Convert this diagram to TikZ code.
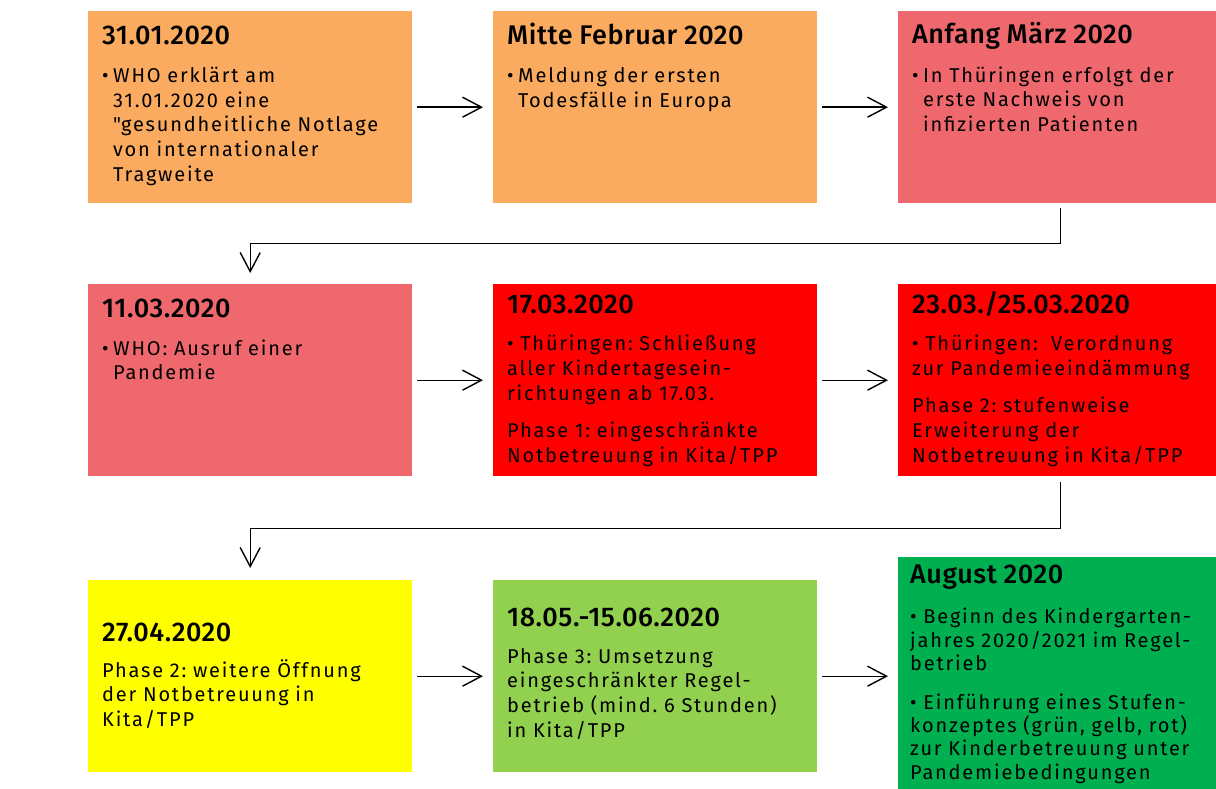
\documentclass[tikz,border=0pt]{standalone}
\usepackage{fontspec}
\setmainfont{Fira Sans}[LetterSpace=9]
\newfontfamily\datefamily{Fira Sans Medium}[LetterSpace=2]
\usepackage{tikz}
\usetikzlibrary{arrows.meta}

\definecolor{boxorange}{HTML}{FAAB60}
\definecolor{boxrose}{HTML}{EF686E}
\definecolor{boxred}{HTML}{FF0000}
\definecolor{boxyellow}{HTML}{FFFF00}
\definecolor{boxlime}{HTML}{92D050}
\definecolor{boxgreen}{HTML}{00B050}

\newcommand{\datefont}{\datefamily\fontsize{27}{30}\selectfont}
\newcommand{\infofont}{\fontsize{20}{24.7}\selectfont\frenchspacing}
\newcommand{\hangitem}{\leftskip=11pt\noindent\llap{\makebox[11pt][l]{\textbullet}}}
\newcommand{\straightquote}{{\addfontfeatures{Ligatures=TeXOff}"}}

\begin{document}
\begin{tikzpicture}[x=1pt,y=-1pt,
    box/.style={anchor=north west,inner sep=0pt,minimum width=324pt,minimum height=192pt},
    info/.style={anchor=base west,inner sep=0pt,text width=330pt,align=left,font=\infofont},
    link/.style={-{Straight Barb[length=19pt,width=20pt]},line width=1.4pt}]
    \useasboundingbox (0,0) rectangle (1216,789);

    \node[box,fill=boxorange] (who) at (88,11) {};
    \node[box,fill=boxorange] (feb) at (493,11) {};
    \node[box,fill=boxrose,minimum width=318pt] (mar) at (898,11) {};
    \node[box,fill=boxrose] (pand) at (88,284) {};
    \node[box,fill=boxred] (close) at (493,284) {};
    \node[box,fill=boxred,minimum width=318pt] (decree) at (898,284) {};
    \node[box,fill=boxyellow] (open) at (88,580) {};
    \node[box,fill=boxlime] (phase3) at (493,580) {};
    \node[box,fill=boxgreen,minimum width=318pt,minimum height=232pt] (aug) at (898,557) {};

    \node[info] (who-t) at ([shift={(14,34)}]who.north west) {{\datefont 31.01.2020}\par\vspace{12.8pt}
        \hangitem WHO erklärt am\\31.01.2020 eine\\\straightquote gesundheitliche Notlage\\von internationaler\\Tragweite\par};
    \node[info] (feb-t) at ([shift={(14,34)}]feb.north west) {{\datefont Mitte Februar 2020}\par\vspace{12.8pt}
        \hangitem Meldung der ersten\\Todesfälle in Europa\par};
    \node[info] (mar-t) at ([shift={(14,33)}]mar.north west) {{\datefont Anfang März 2020}\par\vspace{13.5pt}
        \hangitem In Thüringen erfolgt der\\erste Nachweis von\\infizierten Patienten\par};
    \node[info] (pand-t) at ([shift={(14,33)}]pand.north west) {{\datefont 11.03.2020}\par\vspace{13.5pt}
        \hangitem WHO: Ausruf einer\\Pandemie\par};
    \node[info] (close-t) at ([shift={(14,29)}]close.north west) {{\datefont 17.03.2020}\\[13pt]
        \textbullet{} Thüringen: Schließung\\aller Kindertagesein-\\richtungen ab 17.03.\\[12.5pt]
        Phase 1: eingeschränkte\\Notbetreuung in Kita/TPP};
    \node[info] (decree-t) at ([shift={(14,29)}]decree.north west) {{\datefont 23.03./25.03.2020}\\[13pt]
        \textbullet{} Thüringen:\ \ Verordnung\\zur Pandemieeindämmung\\[12.5pt]
        Phase 2: stufenweise\\Erweiterung der\\Notbetreuung in Kita/TPP};
    \node[info] (open-t) at ([shift={(14,61)}]open.north west) {{\datefont 27.04.2020}\\[11.5pt]
        Phase 2: weitere Öffnung\\der Notbetreuung in\\Kita/TPP};
    \node[info] (phase3-t) at ([shift={(14,46)}]phase3.north west) {{\datefont 18.05.-15.06.2020}\\[12.5pt]
        Phase 3: Umsetzung\\eingeschränkter Regel-\\betrieb (mind. 6 Stunden)\\in Kita/TPP};
    \node[info,font={\fontsize{20}{23.3}\selectfont\frenchspacing}] (aug-t) at ([shift={(12,26)}]aug.north west)
        {{\datefont August 2020}\\[17.5pt]
        \textbullet{} Beginn des Kindergarten-\\jahres 2020/2021 im Regel-\\betrieb\\[15.5pt]
        \textbullet{} Einführung eines Stufen-\\konzeptes (grün, gelb, rot)\\zur Kinderbetreuung unter\\Pandemiebedingungen};

    \draw[link] ([shift={(5,0)}]who.east) -- ([shift={(-10,0)}]feb.west);
    \draw[link] ([shift={(5,0)}]feb.east) -- ([shift={(-10,0)}]mar.west);
    \draw[link] ([shift={(3,5)}]mar.south) -- ++(0,35) -| ([shift={(0,-11)}]pand.north);
    \draw[link] ([shift={(5,0)}]pand.east) -- ([shift={(-10,0)}]close.west);
    \draw[link] ([shift={(5,0)}]close.east) -- ([shift={(-10,0)}]decree.west);
    \draw[link] ([shift={(3,6)}]decree.south) -- ++(0,46) -| ([shift={(0,-12)}]open.north);
    \draw[link] ([shift={(5,0)}]open.east) -- ([shift={(-10,0)}]phase3.west);
    \draw[link] ([shift={(5,0)}]phase3.east) -- ([shift={(-10,0)}]phase3.east -| aug.west);
\end{tikzpicture}
\end{document}
